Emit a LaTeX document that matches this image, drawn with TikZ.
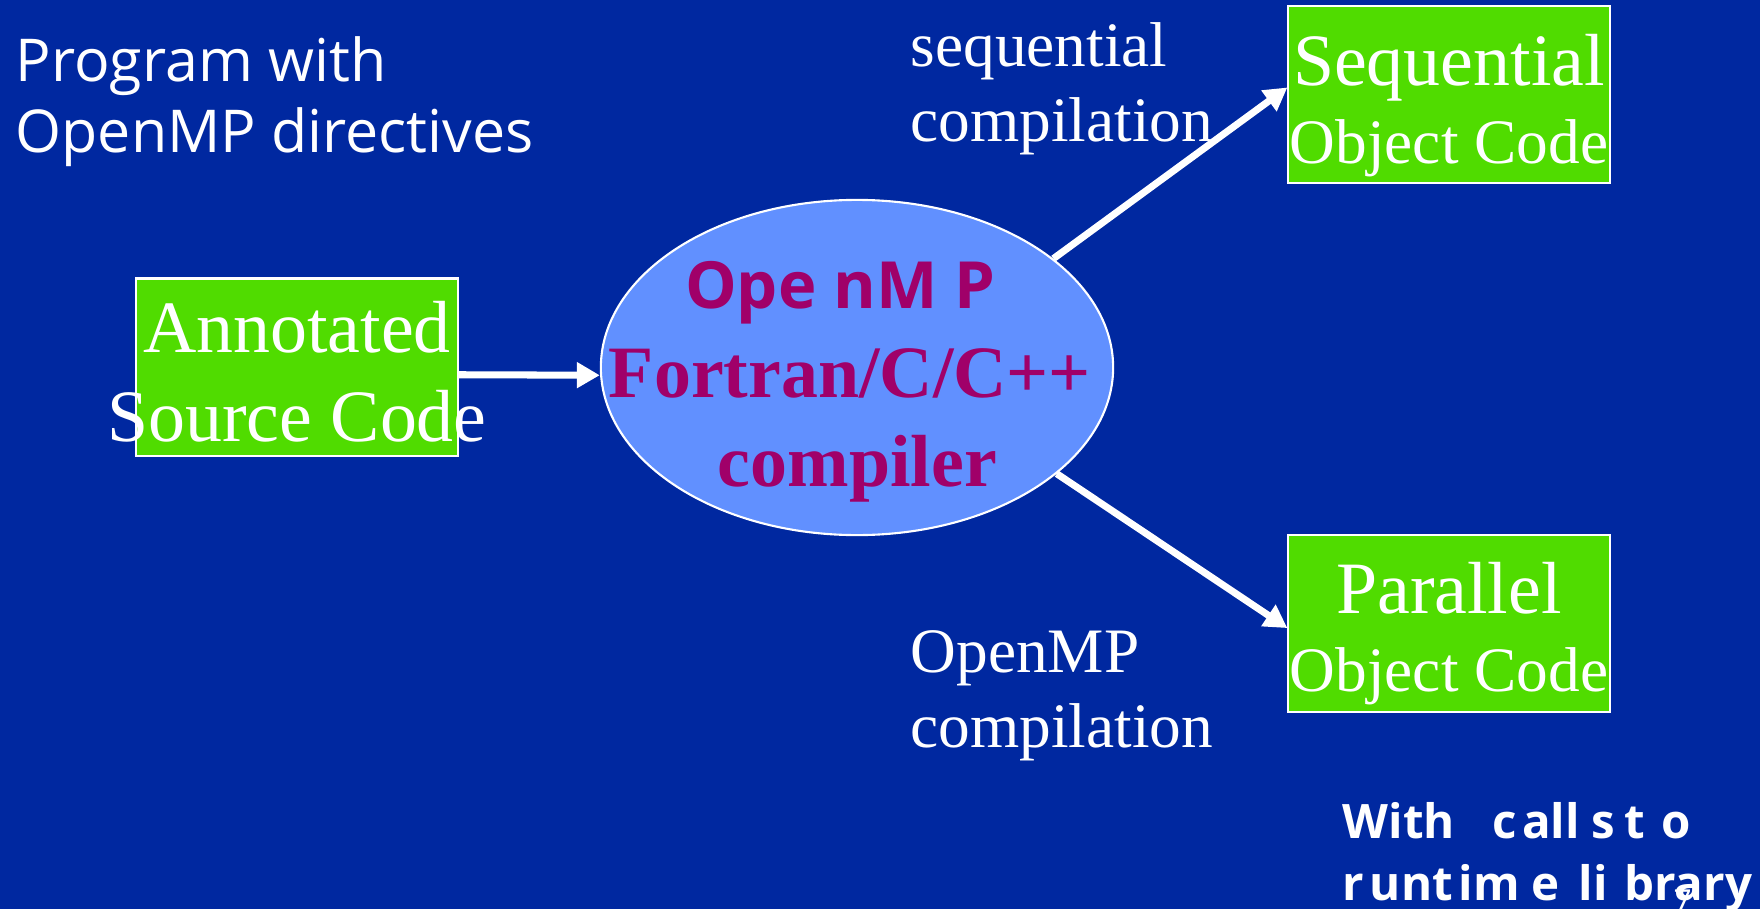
\documentclass[tikz,border=0pt]{standalone}
\usepackage{fontspec}
\setmainfont{Liberation Serif}
\newfontfamily\slidesans{Open Sans}
\usetikzlibrary{shapes.geometric,arrows.meta}
\definecolor{slideblue}{RGB}{0,40,160}
\definecolor{codegreen}{RGB}{80,220,0}
\definecolor{compblue}{RGB}{97,144,255}
\definecolor{compmagenta}{RGB}{160,0,105}
\begin{document}
\begin{tikzpicture}[x=0.01cm,y=-0.01cm]
  \tikzstyle{code box}=[draw=white,line width=0.6pt,fill=codegreen,minimum width=3.21cm,minimum height=1.77cm,inner sep=0]
  \tikzstyle{box text}=[text=white,align=center,inner sep=0]
  \tikzstyle{compiler}=[ellipse,draw=white,line width=0.6pt,fill=compblue,minimum width=5.12cm,minimum height=3.35cm,inner sep=0]
  \tikzstyle{flow}=[draw=white,line width=2pt,-{Triangle[length=6.5pt,width=7pt]}]
  \tikzstyle{note}=[text=white,align=left,anchor=north west,inner sep=0]

  \fill[slideblue] (0,0) rectangle (1760,909);
  \useasboundingbox (0,0) rectangle (1760,909);

  \node(prog)[note,font=\slidesans\fontsize{16.8}{20.2}\selectfont] at (15,36) {Program with\\OpenMP directives};

  \node(src)[code box] at (297,367) {};
  \node(srctext)[box text,font=\fontsize{21}{25.3}\selectfont] at (297,372) {Annotated\\Source Code};

  \node(cc)[compiler] at (857,367.5) {};
  \node(cctext)[box text,text=compmagenta,font=\bfseries\fontsize{21}{25.3}\selectfont] at (850,382)
      {{\slidesans\bfseries\fontsize{18.5}{25.3}\selectfont Ope nM P\kern.3em}\\Fortran/C/C++\\\hspace{.2em}compiler};

  \node(seq)[code box] at (1449,94.5) {};
  \node(seqtext)[box text,font=\fontsize{18}{22.2}\selectfont] at (1449,105.6)
      {{\fontsize{21}{22.2}\selectfont Sequential}\\Object Code};

  \node(par)[code box] at (1449,623.5) {};
  \node(partext)[box text,font=\fontsize{18}{22.2}\selectfont] at (1449,634)
      {{\fontsize{21}{22.2}\selectfont Parallel}\\Object Code};

  \node(seqlabel)[note,font=\fontsize{18}{21.3}\selectfont] at (910,22) {sequential\\compilation};
  \node(omplabel)[note,font=\fontsize{18}{21.3}\selectfont] at (910,630) {OpenMP\\compilation};

  \node(runtime)[note,font=\slidesans\bfseries\fontsize{13.5}{17.6}\selectfont] at (1342,802)
      {With\hspace{.8em}c\hspace{.1em}all\hspace{.25em}s\hspace{.2em}t\hspace{.35em}o\\
       r\hspace{.12em}unt\hspace{.12em}im\hspace{.25em}e\hspace{.4em}li\hspace{.35em}brary};
  \node(slideno)[note,font=\slidesans\fontsize{9}{11}\selectfont] at (1673,889) {7};

  \draw[flow] ([yshift=-2.2pt]src.east) -- ([yshift=-2.2pt]cc.west);
  \draw[flow] (cc.29) -- ([yshift=2pt]seq.west);
  \draw[flow] (cc.-28) -- ([yshift=-1.3pt]par.west);
\end{tikzpicture}
\end{document}
